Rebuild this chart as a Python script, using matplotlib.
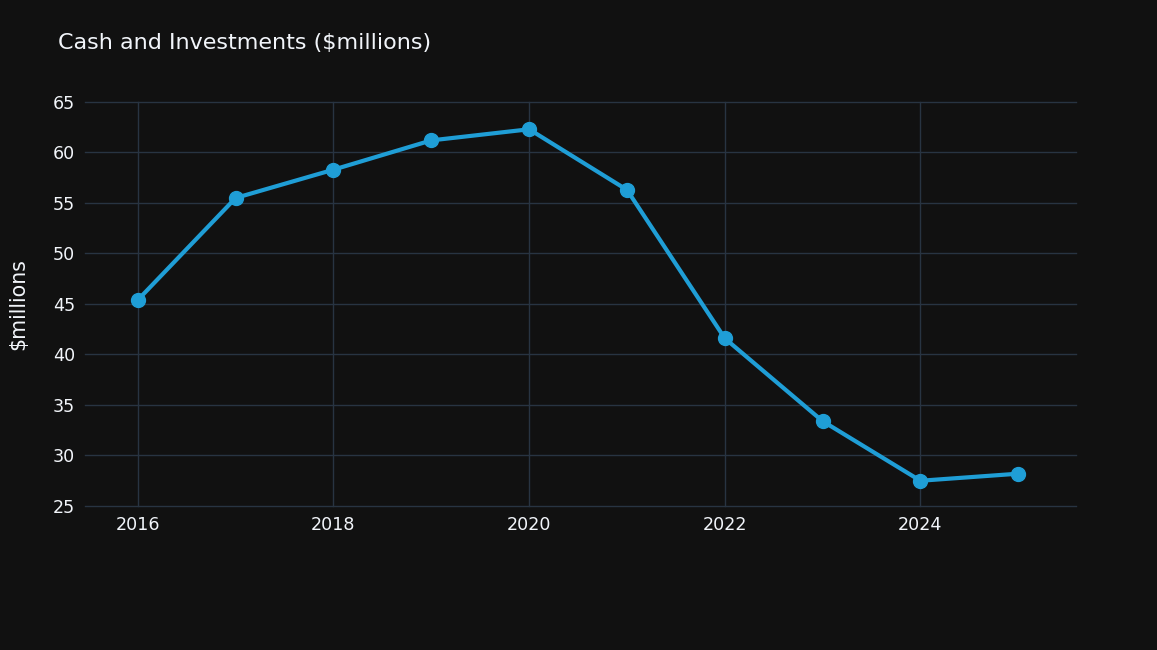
import matplotlib
matplotlib.use("Agg")
import matplotlib.pyplot as plt

years = [2016, 2017, 2018, 2019, 2020, 2021, 2022, 2023, 2024, 2025]
cash = [45.4, 55.5, 58.3, 61.2, 62.3, 56.3, 41.6, 33.4, 27.5, 28.2]
yticks = [25, 30, 35, 40, 45, 50, 55, 60, 65]
xticks = [2016, 2018, 2020, 2022, 2024]

plt.rcParams['font.family'] = ['DejaVu Sans']
bg = '#111111'
grid = '#283442'
fig = plt.figure(figsize=(11.57, 6.5), dpi=100, facecolor=bg)
ax = fig.add_axes([85/1157, 1-506/650, (1076-85)/1157, (506-102)/650])
ax.set_facecolor(bg)
ax.plot(years, cash, color='#1f9ed6', lw=3, marker='o', ms=10, zorder=3)
ax.set_xlim(2015.46, 2025.59)
ax.set_ylim(25, 65)
ax.set_yticks(yticks)
ax.set_xticks(xticks)
ax.grid(True, color=grid, lw=1)
for gl in ax.get_xgridlines() + ax.get_ygridlines():
    gl.set_clip_on(False)
ax.set_axisbelow(True)
for s in ax.spines.values():
    s.set_visible(False)
ax.tick_params(colors='#f2f5fa', labelsize=12.6, length=0, pad=7)
ax.set_ylabel('$millions', color='#f2f5fa', fontsize=14.8, labelpad=0)
ax.yaxis.set_label_coords(-57/991, 0.5)
fig.text(58/1157, 1-43/650, 'Cash and Investments ($millions)', color='#f2f5fa', fontsize=16, va='center', ha='left')
fig.savefig('out.png', dpi=100, facecolor=bg)
